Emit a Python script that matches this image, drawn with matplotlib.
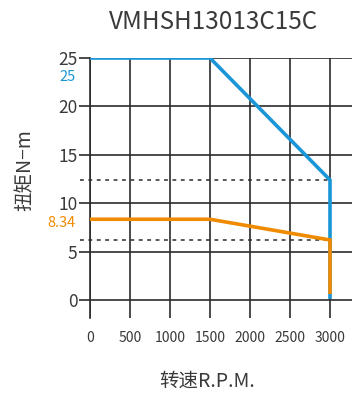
import matplotlib
matplotlib.use("Agg")
import matplotlib.pyplot as plt

plt.rcParams['font.family'] = ['Noto Sans CJK SC', 'DejaVu Sans']

# curve data
speed_peak = [0, 1500, 3000, 3000]
torque_peak = [25, 25, 12.4, 0.3]
speed_rated = [0, 1500, 3000, 3000]
torque_rated = [8.34, 8.34, 6.2, 0.8]
ref_levels = [12.4, 6.2]
xticks = [0, 500, 1000, 1500, 2000, 2500, 3000]
yticks = [0, 5, 10, 15, 20, 25]

blue = '#1a96d8'
orange = '#f08a00'
grid_c = '#2b2b2b'
text_c = '#3a3a3a'

fig = plt.figure(figsize=(3.54, 3.95), dpi=100)
ax = fig.add_axes([90/354, 1 - 318/395, (352-90)/354, (318-58)/395])

ax.set_xlim(0, 3275)
ax.set_ylim(-1.86, 25)

for y in yticks:
    ax.axhline(y, color=grid_c, lw=1.2, zorder=1)
for x in xticks:
    ax.axvline(x, color=grid_c, lw=1.2, zorder=1)
for y in ref_levels:
    ax.plot([-130, 2980], [y, y], color=grid_c, lw=1.1, ls=(0, (2.5, 3)),
            clip_on=False, zorder=1)

ax.plot(speed_peak, torque_peak, color=blue, lw=2.6, zorder=3, solid_joinstyle='miter')
ax.plot(speed_rated, torque_rated, color=orange, lw=2.6, zorder=4, solid_joinstyle='miter')

for s in ['top', 'right', 'bottom']:
    ax.spines[s].set_visible(False)
ax.spines['left'].set_color(grid_c)
ax.spines['left'].set_linewidth(1.2)

ax.set_xticks(xticks)
ax.set_yticks(yticks)
ax.tick_params(axis='y', length=8, width=1.2, color=grid_c, labelsize=12.5,
               labelcolor=text_c, pad=1)
ax.tick_params(axis='x', length=0, labelsize=10, labelcolor=text_c, pad=9)

ax.text(-175, 23.0, '25', color=blue, fontsize=10.5, ha='right', va='center')
ax.text(-175, 7.95, '8.34', color=orange, fontsize=10.5, ha='right', va='center')

fig.text(25/354, 1 - 170/395, '扭矩N−m', rotation=90, ha='center', va='center',
         fontsize=14, color=text_c)
fig.text(207/354, 1 - 381/395, '转速R.P.M.', ha='center', va='center',
         fontsize=14, color=text_c)
fig.text(214/354, 1 - 22/395, 'VMHSH13013C15C', ha='center', va='center',
         fontsize=17.5, color=text_c)

fig.savefig('out.png', dpi=100)
